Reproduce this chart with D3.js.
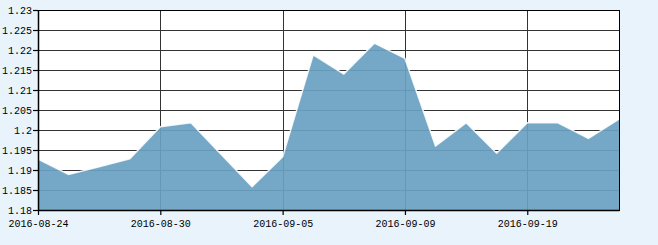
<!DOCTYPE html>
<html>
<head>
<meta charset="utf-8">
<script src="https://cdn.jsdelivr.net/npm/d3@7"></script>
<style>
  body { margin: 0; background: #e8f3fb; }
  .axis text { font-family: "Liberation Mono", "DejaVu Sans Mono", monospace; font-size: 10px; fill: #000; }
</style>
</head>
<body>
<div class="chart"></div>
<script>
const dates = ['2016-08-24','2016-08-25','2016-08-26','2016-08-29','2016-08-30','2016-08-31',
               '2016-09-01','2016-09-02','2016-09-05','2016-09-06','2016-09-07','2016-09-08',
               '2016-09-09','2016-09-12','2016-09-13','2016-09-14','2016-09-19','2016-09-20',
               '2016-09-21','2016-09-22'];
const values = [1.1927, 1.1889, 1.1908, 1.1928, 1.2008, 1.2018, 1.1938, 1.1858, 1.1933, 1.2188,
                1.2140, 1.2217, 1.2179, 1.1960, 1.2018, 1.1942, 1.2018, 1.2018, 1.1979, 1.2027];
const yTicks = [1.18, 1.185, 1.19, 1.195, 1.2, 1.205, 1.21, 1.215, 1.22, 1.225, 1.23];
const xTickDates = ['2016-08-24','2016-08-30','2016-09-05','2016-09-09','2016-09-19'];

const margin = ({top: 10, right: 39, bottom: 35, left: 38});
const width = 658 - margin.left - margin.right;
const height = 245 - margin.top - margin.bottom;

const data = dates.map((d, i) => ({date: d, value: values[i]}));

const svg = d3.select('.chart')
    .append('svg')
    .attr('width', 658)
    .attr('height', 245)
    .append('g')
    .attr('transform', 'translate(' + margin.left + ',' + margin.top + ')');

const xScale = d3.scalePoint()
    .domain(dates)
    .range([0, width]);

const yScale = d3.scaleLinear()
    .domain([1.18, 1.23])
    .range([height, 0]);

// plot background
svg.append('rect')
    .attr('width', width)
    .attr('height', height)
    .attr('fill', '#fff');

// grid
svg.append('g')
    .selectAll('line')
    .data(yTicks)
    .enter()
    .append('line')
    .attr('x1', 0)
    .attr('x2', width)
    .attr('y1', d => Math.round(yScale(d)) + 0.5)
    .attr('y2', d => Math.round(yScale(d)) + 0.5)
    .attr('stroke', '#333');

svg.append('g')
    .selectAll('line')
    .data(xTickDates)
    .enter()
    .append('line')
    .attr('x1', d => Math.round(xScale(d)) + 0.5)
    .attr('x2', d => Math.round(xScale(d)) + 0.5)
    .attr('y1', 0)
    .attr('y2', height)
    .attr('stroke', '#333');

// area
const area = d3.area()
    .x(d => xScale(d.date))
    .y0(height)
    .y1(d => yScale(d.value));

const line = d3.line()
    .x(d => xScale(d.date))
    .y(d => yScale(d.value));

svg.append('path')
    .datum(data)
    .attr('d', area)
    .attr('fill', 'rgb(105,161,193)')
    .attr('fill-opacity', 0.92);

svg.append('path')
    .datum(data)
    .attr('d', line)
    .attr('fill', 'none')
    .attr('stroke', '#fff')
    .attr('stroke-opacity', 0.85)
    .attr('stroke-width', 1.5);

// border top/right
svg.append('rect')
    .attr('x', 0.5)
    .attr('y', 0.5)
    .attr('width', width)
    .attr('height', height)
    .attr('fill', 'none')
    .attr('stroke', '#000');

const xAxis = d3.axisBottom(xScale)
    .tickValues(xTickDates)
    .tickSize(5)
    .tickSizeOuter(0)
    .tickPadding(5);

const yAxis = d3.axisLeft(yScale)
    .tickValues(yTicks)
    .tickFormat(d3.format('~g'))
    .tickSize(5)
    .tickSizeOuter(0)
    .tickPadding(1);

svg.append('g')
    .attr('class', 'axis x-axis')
    .attr('transform', 'translate(0,' + height + ')')
    .call(xAxis);

svg.append('g')
    .attr('class', 'axis y-axis')
    .call(yAxis);

svg.selectAll('.axis .domain').attr('stroke', '#000').attr('stroke-width', 1.5);
svg.selectAll('.axis .tick line').attr('stroke', '#000').attr('stroke-width', 1.2);
</script>
</body>
</html>
